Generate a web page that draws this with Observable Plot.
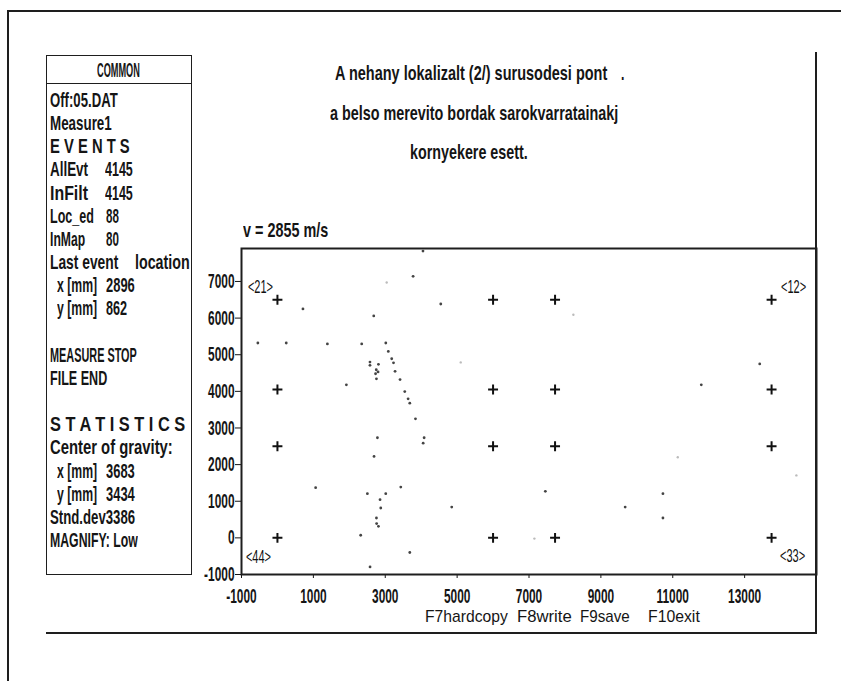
<!DOCTYPE html>
<html>
<head>
<meta charset="utf-8">
<script src="https://cdn.jsdelivr.net/npm/d3@7"></script>
<script src="https://cdn.jsdelivr.net/npm/@observablehq/plot@0.6"></script>
<style>
  html, body { margin: 0; padding: 0; background: #fff; }
  #page { position: relative; width: 841px; height: 681px; overflow: hidden; background: #fff; }
  .ln { position: absolute; background: #1e1e1e; }
  .t { position: absolute; font-family: "Liberation Sans", Arial, sans-serif; font-size: 20.5px; line-height: 20px;
       font-weight: bold; white-space: pre; color: #151515; transform-origin: 0 0; }
  .m { font-size: 17px; line-height: 16px; font-weight: normal; }
  #box { position: absolute; left: 46px; top: 55px; width: 144px; height: 518px; border: 1.5px solid #1e1e1e; }
  #boxhead { position: absolute; left: 0; top: 0; width: 144px; height: 27px; border-bottom: 1.5px solid #1e1e1e; }
  #chart { position: absolute; left: 190px; top: 230px; }
</style>
</head>
<body>
<div id="page">
  <div class="ln" style="left:7px;top:10px;width:834px;height:2px"></div>
  <div class="ln" style="left:7px;top:10px;width:2px;height:671px"></div>
  <div class="ln" style="left:815px;top:52px;width:2px;height:582px"></div>
  <div class="ln" style="left:46px;top:632px;width:771px;height:2px"></div>
  <div id="box"><div id="boxhead"></div></div>
  <div id="chart"></div>
</div>
<script>
// ---- chart data ----
const xTicks = [-1000, 1000, 3000, 5000, 7000, 9000, 11000, 13000];
const yTicks = [-1000, 0, 1000, 2000, 3000, 4000, 5000, 6000, 7000];

// sensor grid (mm)
const sensorX = [0, 6000, 7725, 13750];
const sensorY = [0, 2500, 4050, 6500];
const cornerLabels = ["<21>", "<12>", "<44>", "<33>"];
const cornerX = [0, 13750, 0, 13750];
const cornerY = [6500, 6500, 0, 0];

// located events (mm)
const eventX = [4050, 3775, 710, 2680, 4545, -545, 245, 1390, 2345, 3015,
  3085, 3180, 3230, 2575, 2575, 2810, 2750, 2800, 2730, 2755,
  3273, 3412, 1918, 3543, 3636, 3683, 3841, 2782, 4082, 4055,
  2688, 1063, 3432, 2503, 3014, 2855, 2875, 2755, 2760, 2810,
  2317, 3683, 2577, 4850, 13420, 11794, 7455, 9676, 10727, 10727];
const eventY = [7830, 7140, 6250, 6060, 6385, 5320, 5320, 5295, 5295, 5320,
  5090, 4890, 4780, 4800, 4710, 4738, 4590, 4530, 4480, 4341,
  4548, 4322, 4177, 3995, 3796, 3676, 3250, 2733, 2733, 2586,
  2223, 1370, 1387, 1207, 1207, 1044, 815, 542, 390, 316,
  71, -400, -793, 842, 4750, 4177, 1270, 842, 1207, 542];
// faint events
const faintX = [3040, 8235, 7150, 14440, 11140, 5100];
const faintY = [6970, 6093, -20, 1706, 2200, 4790];

// ---- text panels (line index in the side panel, text, width) ----
const sidebar = [
  [0, 50, "Off:05.DAT", 68],
  [1, 50, "Measure1", 62],
  [2, 50, "E V E N T S", 80],
  [3, 50, "AllEvt", 38], [3, 105, "4145", 28],
  [4, 50, "InFilt", 38], [4, 105, "4145", 28],
  [5, 50, "Loc_ed", 44], [5, 106, "88", 13],
  [6, 50, "InMap", 35], [6, 106, "80", 13],
  [7, 50, "Last event", 68], [7, 135, "location", 55],
  [8, 57, "x [mm]", 40], [8, 106, "2896", 29],
  [9, 57, "y [mm]", 40], [9, 106, "862", 21],
  [11, 50, "MEASURE STOP", 87],
  [12, 50, "FILE END", 57],
  [14, 50, "S T A T I S T I C S", 135],
  [15, 50, "Center of gravity:", 123],
  [16, 57, "x [mm]", 40], [16, 106, "3683", 29],
  [17, 57, "y [mm]", 40], [17, 106, "3434", 29],
  [18, 50, "Stnd.dev3386", 85],
  [19, 50, "MAGNIFY: Low", 88]
];
const headings = [
  [118, 70, "COMMON", 43, "c"],
  [471, 73, "A nehany lokalizalt (2/) surusodesi pont", 272, "c"],
  [621, 73, ".", null],
  [474, 113, "a belso merevito bordak sarokvarratainakj", 288, "c"],
  [469, 152, "kornyekere esett.", 118, "c"],
  [243, 230, "v = 2855 m/s", 85]
];
const menu = [
  [425, 617, "F7hardcopy", 83],
  [517, 617, "F8write", 55],
  [580, 617, "F9save", 50],
  [648, 617, "F10exit", 52]
];

const page = document.getElementById("page");
function place(items, cls, capOffset) {
  for (const [x, yc, txt, target, anchor] of items) {
    const s = document.createElement("div");
    s.className = cls;
    s.textContent = txt;
    page.appendChild(s);
    const w = s.offsetWidth;
    const k = target ? target / w : 0.6;
    s.style.top = (yc - capOffset) + "px";
    s.style.left = (anchor === "c" ? x - (w * k) / 2 : x) + "px";
    s.style.transform = `scaleX(${k})`;
  }
}
place(sidebar.map(([line, x, txt, w]) => [x, 100 + line * 23.16, txt, w]), "t", 10);
place(headings, "t", 10);
place(menu, "t m", 8);

// ---- the plot ----
const events = eventX.map((x, i) => ({x, y: eventY[i]}));
const faint = faintX.map((x, i) => ({x, y: faintY[i]}));
const sensors = d3.cross(sensorY, sensorX, (y, x) => ({x, y}));
const offs = [[-17, -13], [22, -13], [-19, 19], [21, 18]];

const chart = Plot.plot({
  width: 636,
  height: 380,
  marginLeft: 51,
  marginRight: 10,
  marginTop: 18,
  marginBottom: 36,
  style: {fontFamily: "Liberation Sans, Arial, sans-serif", fontSize: "20.5px", fontWeight: "bold", color: "#151515", background: "transparent", overflow: "visible"},
  x: {domain: [-1000, 15000], ticks: xTicks, tickSize: 4, tickPadding: 10, tickFormat: d => String(d), label: null},
  y: {domain: [-1000, 7900], ticks: yTicks, tickSize: 6, tickPadding: 1, tickFormat: d => String(d), label: null},
  marks: [
    Plot.frame({stroke: "#1e1e1e", strokeWidth: 2}),
    Plot.dot(faint, {x: "x", y: "y", r: 1.2, fill: "#bbb"}),
    Plot.dot(events, {x: "x", y: "y", r: 1.4, fill: "#444"}),
    Plot.dot(sensors, {x: "x", y: "y", symbol: "plus", r: 3.3, stroke: "#111", strokeWidth: 2}),
    ...cornerLabels.map((lab, i) => Plot.text([i], {
      x: j => cornerX[j], y: j => cornerY[j], text: j => cornerLabels[j],
      dx: offs[i][0], dy: offs[i][1], fontSize: 19, fontWeight: "normal", fill: "#111"
    }))
  ]
});

// condense text glyphs horizontally, like the original screen font
chart.querySelectorAll("text").forEach(t => {
  let tr = t.getAttribute("transform") || "";
  const x = t.getAttribute("x");
  if (x != null && !/em$/.test(x)) { tr += ` translate(${x},0)`; t.removeAttribute("x"); }
  const k = /^<\d+>$/.test(t.textContent) ? 0.58 : 0.58;
  t.setAttribute("transform", (tr + ` scale(${k},1)`).trim());
});
document.getElementById("chart").appendChild(chart);
</script>
</body>
</html>
